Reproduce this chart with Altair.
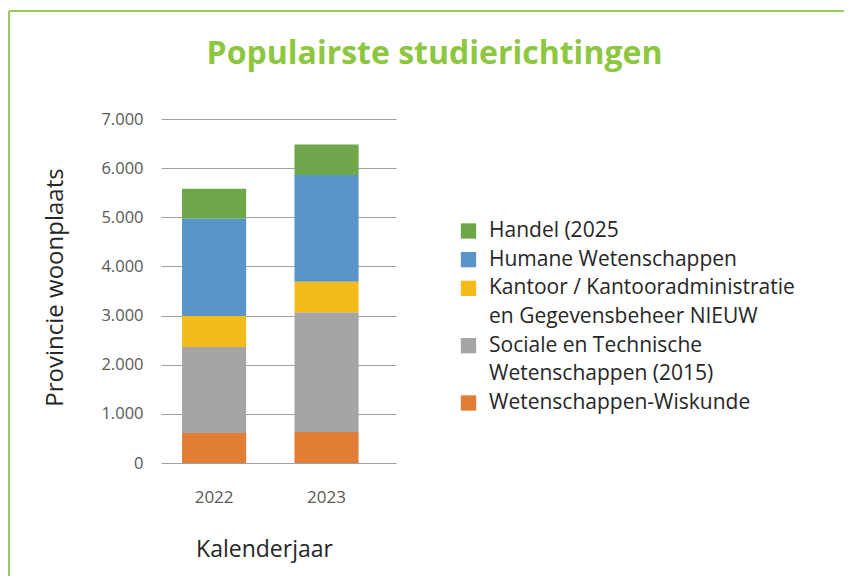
import altair as alt
import pandas as pd

years = ["2022", "2023"]
categories = [
    "Handel (2025",
    "Humane Wetenschappen",
    "Kantoor / Kantooradministratie en Gegevensbeheer NIEUW",
    "Sociale en Technische Wetenschappen (2015)",
    "Wetenschappen-Wiskunde",
]
stack_order = [4, 3, 2, 1, 0]
values = {
    "Handel (2025": [610, 620],
    "Humane Wetenschappen": [1980, 2170],
    "Kantoor / Kantooradministratie en Gegevensbeheer NIEUW": [630, 630],
    "Sociale en Technische Wetenschappen (2015)": [1750, 2430],
    "Wetenschappen-Wiskunde": [610, 630],
}
colors = ["#6FA64A", "#5994C8", "#F3BC1A", "#A5A5A5", "#E27D35"]

# legend: text lines and the line on which each entry starts
legend_lines = [
    "Handel (2025",
    "Humane Wetenschappen",
    "Kantoor / Kantooradministratie",
    "en Gegevensbeheer NIEUW",
    "Sociale en Technische",
    "Wetenschappen (2015)",
    "Wetenschappen-Wiskunde",
]
legend_start_line = [0, 1, 2, 4, 6]

rows = []
for c, o in zip(categories, stack_order):
    for y, v in zip(years, values[c]):
        rows.append({"jaar": y, "richting": c, "aantal": v, "volgorde": o})
df = pd.DataFrame(rows)

sym_df = pd.DataFrame({"richting": categories, "regel": legend_start_line})
txt_df = pd.DataFrame({"tekst": legend_lines, "regel": list(range(len(legend_lines)))})

FONT = "Open Sans"
color_scale = alt.Scale(domain=categories, range=colors)

bars = alt.Chart(df).mark_bar().encode(
    x=alt.X(
        "jaar:N",
        title="Kalenderjaar",
        scale=alt.Scale(paddingInner=0.43, paddingOuter=0.26, align=0.36),
        axis=alt.Axis(
            labelAngle=0, ticks=False, domain=False, labelPadding=26,
            labelFontSize=17, labelColor="#595959", labelFont=FONT,
            titleFontSize=23, titleFont=FONT, titleFontWeight="normal",
            titleColor="#262626", titlePadding=33, titleX=103,
        ),
    ),
    y=alt.Y(
        "aantal:Q",
        title="Provincie woonplaats",
        stack="zero",
        scale=alt.Scale(domain=[0, 7000]),
        axis=alt.Axis(
            values=[0, 1000, 2000, 3000, 4000, 5000, 6000, 7000],
            labelExpr="replace(format(datum.value, ','), ',', '.')",
            ticks=False, domain=False, labelPadding=18,
            labelFontSize=16.5, labelColor="#595959", labelFont=FONT,
            gridColor="#A0A0A0", gridWidth=1,
            titleFontSize=24, titleFont=FONT, titleFontWeight="normal",
            titleColor="#262626", titlePadding=33, titleY=168,
        ),
    ),
    color=alt.Color("richting:N", scale=color_scale, legend=None),
    order=alt.Order("volgorde:Q"),
)

legend_y = alt.Scale(domain=[0, 6], range=[112, 284])

leg_sym = alt.Chart(sym_df).mark_square(size=235, opacity=1).encode(
    x=alt.value(307.5),
    y=alt.Y("regel:Q", scale=legend_y, axis=None),
    color=alt.Color("richting:N", scale=color_scale, legend=None),
)
leg_txt = alt.Chart(txt_df).mark_text(
    align="left", baseline="middle", font=FONT, fontSize=21, color="#262626"
).encode(
    x=alt.value(328),
    y=alt.Y("regel:Q", scale=legend_y, axis=None),
    text="tekst:N",
)

border_left = alt.Chart(sym_df).mark_rule(color="#9BCB5A", strokeWidth=2).encode(
    x=alt.value(-152), y=alt.value(-108), y2=alt.value(470)
)
border_top = alt.Chart(sym_df).mark_rule(color="#9BCB5A", strokeWidth=2).encode(
    x=alt.value(-152), x2=alt.value(700), y=alt.value(-108)
)

chart = (
    alt.layer(bars, leg_sym, leg_txt, border_left, border_top)
    .resolve_scale(y="independent")
    .properties(
        width=235,
        height=344,
        autosize=alt.AutoSizeParams(type="none"),
        padding={"left": 153, "top": 111, "right": 448, "bottom": 113},
        title=alt.TitleParams(
            "Populairste studierichtingen", font=FONT, fontSize=32,
            fontWeight="bold", color="#8DC63F", anchor="middle",
            frame="group", dx=156, offset=0, dy=86, baseline="alphabetic",
        ),
    )
    .configure_view(stroke=None)
)

chart.save("out.html", embed_options={"renderer": "svg", "actions": False})
